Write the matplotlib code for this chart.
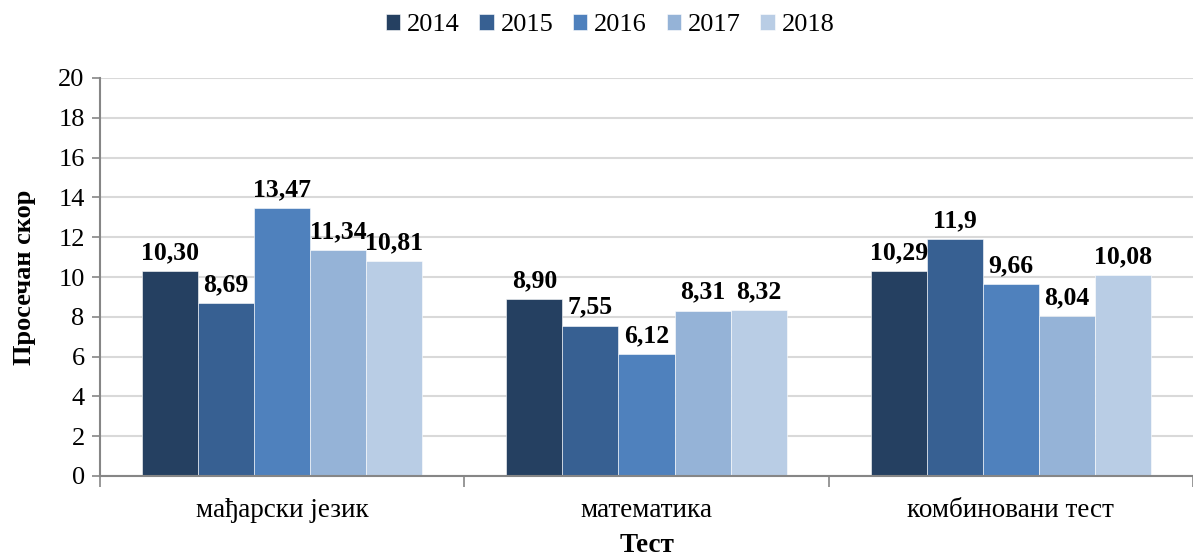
import numpy as np
import matplotlib.pyplot as plt

plt.rcParams["font.family"] = ["Liberation Serif", "DejaVu Serif"]

categories = ["мађарски језик", "математика", "комбиновани тест"]
years = ["2014", "2015", "2016", "2017", "2018"]
values = {
    "2014": [10.30, 8.90, 10.29],
    "2015": [8.69, 7.55, 11.9],
    "2016": [13.47, 6.12, 9.66],
    "2017": [11.34, 8.31, 8.04],
    "2018": [10.81, 8.32, 10.08],
}
labels = {
    "2014": ["10,30", "8,90", "10,29"],
    "2015": ["8,69", "7,55", "11,9"],
    "2016": ["13,47", "6,12", "9,66"],
    "2017": ["11,34", "8,31", "8,04"],
    "2018": ["10,81", "8,32", "10,08"],
}
colors = ["#254061", "#376092", "#4F81BD", "#95B3D7", "#B9CDE5"]

fig = plt.figure(figsize=(11.93, 5.59), dpi=100)
ax = fig.add_axes([100 / 1193, 1 - 476 / 559, 1 - 100 / 1193, (476 - 78) / 559])

x = np.arange(len(categories))
w = 0.154
for i, (yr, c) in enumerate(zip(years, colors)):
    pos = x + (i - 2) * w
    bars = ax.bar(pos, values[yr], w, color=c, edgecolor="white", linewidth=0.4,
                  label=yr, zorder=2)
    for b, txt in zip(bars, labels[yr]):
        ax.annotate(txt, (b.get_x() + b.get_width() / 2, b.get_height()),
                    xytext=(0, 5), textcoords="offset points", ha="center",
                    va="bottom", fontsize=18.5, fontweight="bold", zorder=3)

ax.set_xlim(-0.5, 2.473)
ax.set_ylim(0, 20)
ax.set_yticks(range(0, 21, 2))
ax.yaxis.grid(True, color="#d9d9d9", linewidth=1.5, zorder=0)
ax.set_axisbelow(True)

ax.set_xticks([-0.5, 0.5, 1.5, 2.5])
ax.set_xticklabels([])
ax.set_xticks(x, minor=True)
ax.set_xticklabels(categories, minor=True, fontsize=19.5)
ax.tick_params(axis="x", which="minor", length=0, pad=16)
ax.tick_params(axis="x", which="major", length=8, width=1.2, color="#868686")
ax.tick_params(axis="y", length=6, width=1.2, color="#868686", labelsize=19, pad=5)

for s in ("top", "right"):
    ax.spines[s].set_visible(False)
for s in ("left", "bottom"):
    ax.spines[s].set_color("#868686")
    ax.spines[s].set_linewidth(1.5)

ax.set_ylabel("Просечан скор", fontsize=19, fontweight="bold", labelpad=16)
ax.set_xlabel("Тест", fontsize=19.5, fontweight="bold", labelpad=7)

fig.legend(*ax.get_legend_handles_labels(), loc="center",
           bbox_to_anchor=(610 / 1193, 1 - 25 / 559), ncol=5, frameon=False,
           fontsize=19, handlelength=0.55, handleheight=0.55, handletextpad=0.25,
           columnspacing=0.75)

fig.savefig("out.png", dpi=100)
